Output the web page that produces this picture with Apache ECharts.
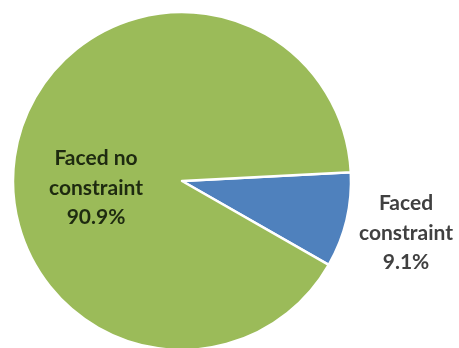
<!DOCTYPE html>
<html>
<head>
<meta charset="utf-8">
<script src="https://cdn.jsdelivr.net/npm/echarts@6/dist/echarts.min.js"></script>
<style>
  html, body { margin: 0; padding: 0; background: #ffffff; }
  #chart { width: 459px; height: 348px; }
</style>
</head>
<body>
<div id="chart"></div>
<script>
// Share of respondents by whether they faced a constraint
const categories = ['Faced constraint', 'Faced no constraint'];
const labelNames = ['Faced\nconstraint', 'Faced no\nconstraint'];
const shares = [9.1, 90.9];
const sliceColors = ['#4F81BD', '#9BBB59'];
const labelColors = ['#404040', '#1e2a10'];
// label anchor points (px) for each slice
const labelSpots = [[406, 233], [96, 188]];

const chart = echarts.init(document.getElementById('chart'), null, { renderer: 'canvas' });

chart.setOption({
  animation: false,
  backgroundColor: '#ffffff',
  series: [{
    type: 'pie',
    center: [182, 181],
    radius: [0, 169],
    startAngle: 3,
    clockwise: true,
    avoidLabelOverlap: false,
    itemStyle: { borderColor: '#ffffff', borderWidth: 2.5 },
    label: {
      show: true,
      position: 'inside',
      fontFamily: 'Lato',
      fontWeight: 'bold',
      fontSize: 21,
      lineHeight: 29.5,
      align: 'center',
      formatter: p => labelNames[p.dataIndex] + '\n' + p.value.toFixed(1) + '%'
    },
    labelLine: { show: false },
    labelLayout: p => ({
      x: labelSpots[p.dataIndex][0],
      y: labelSpots[p.dataIndex][1],
      align: 'center',
      verticalAlign: 'middle'
    }),
    data: categories.map((c, i) => ({
      name: c,
      value: shares[i],
      itemStyle: { color: sliceColors[i] },
      label: { color: labelColors[i] }
    }))
  }]
});
</script>
</body>
</html>
